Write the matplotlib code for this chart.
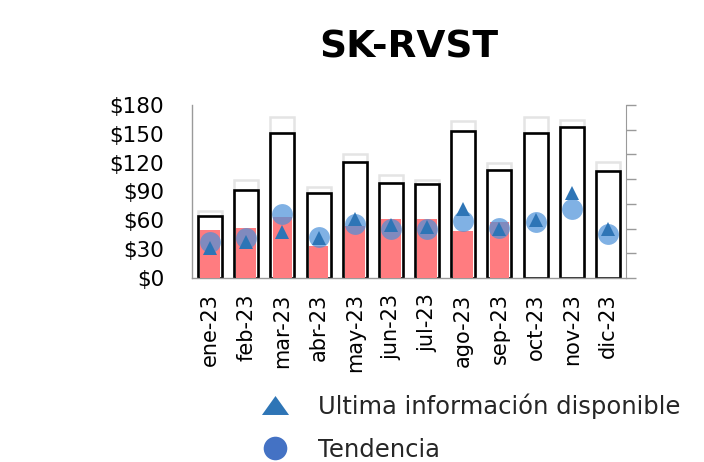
import matplotlib
matplotlib.use("Agg")
import matplotlib.pyplot as plt
from matplotlib.lines import Line2D
import numpy as np

# Monthly data
months = ["ene-23", "feb-23", "mar-23", "abr-23", "may-23", "jun-23",
          "jul-23", "ago-23", "sep-23", "oct-23", "nov-23", "dic-23"]
total = [64.6, 91.7, 150.5, 88.0, 120.3, 98.4, 97.3, 152.6, 112.6, 150.8, 157.0, 110.9]
previous = [70.2, 101.5, 167.2, 94.9, 128.6, 106.7, 101.5, 163.3, 119.9, 167.8, 164.7, 120.9]
executed = [50.0, 51.8, 63.5, 33.4, 53.9, 61.2, 61.2, 48.7, 58.4, 0, 0, 0]
tendencia = [37.5, 41.7, 67.1, 42.4, 56.0, 51.1, 51.5, 59.1, 52.1, 58.1, 71.9, 46.3]
ultima = [31.8, 37.5, 48.3, 42.2, 61.0, 54.9, 53.4, 72.3, 50.6, 60.5, 88.5, 51.5]
y_ticks = [0, 30, 60, 90, 120, 150, 180]

plt.rcParams['font.family'] = ['DejaVu Sans']

fig = plt.figure(figsize=(7.04, 4.62), dpi=100)
ax = fig.add_axes([0.2727, 0.398, 0.6165, 0.375])

x = np.arange(len(months))
grid_color = "#9a9a9a"

ax.bar(x, previous, width=0.66, facecolor="none", edgecolor="#e4e4e4",
       linewidth=1.8, zorder=1)
ax.bar(x, total, width=0.66, facecolor="white", edgecolor="black",
       linewidth=1.9, zorder=2)
ax.bar(x, executed, width=0.545, color="#ff7c80", linewidth=0, zorder=3)
ax.plot(x, tendencia, linestyle="none", marker="o", markersize=15,
        markerfacecolor="#4a90d9", markeredgewidth=0, alpha=0.7, zorder=4)
ax.plot(x, ultima, linestyle="none", marker="^", markersize=10.6,
        markerfacecolor="#2e75b6", markeredgewidth=0, zorder=5)

ax.set_xlim(-0.5, len(months) - 0.5)
ax.set_ylim(0, 180)
ax.set_yticks(y_ticks)
ax.set_yticklabels(["${}".format(v) for v in y_ticks], fontsize=15.5)
ax.set_xticks(x)
ax.set_xticklabels(months, rotation=90, fontsize=15)
ax.tick_params(axis="x", length=0, pad=11)
ax.tick_params(axis="y", length=0, pad=20)

for side in ["top", "right"]:
    ax.spines[side].set_visible(False)
for side in ["left", "bottom"]:
    ax.spines[side].set_color(grid_color)
    ax.spines[side].set_linewidth(1.0)

# secondary axis: ticks only
ax2 = ax.twinx()
ax2.set_ylim(0, 7)
ax2.set_yticks(range(8))
ax2.set_yticklabels([])
ax2.tick_params(axis="y", length=7, width=1.0, color=grid_color)
for side in ["top", "left", "bottom"]:
    ax2.spines[side].set_visible(False)
ax2.spines["right"].set_color(grid_color)

ax.set_title("SK-RVST", fontsize=27, fontweight="bold", pad=34)

tri = [(-1, -0.7), (1, -0.7), (0, 0.7)]
handles = [
    Line2D([], [], linestyle="none", marker=tri, markersize=19.5,
           markerfacecolor="#2e75b6", markeredgewidth=0),
    Line2D([], [], linestyle="none", marker="o", markersize=17,
           markerfacecolor="#4472c4", markeredgewidth=0),
]
fig.legend(handles, ["Ultima información disponible", "Tendencia"],
           loc="upper left", bbox_to_anchor=(0.342, 0.170), frameon=False,
           fontsize=17.5, handletextpad=0.78, labelspacing=0.78,
           borderaxespad=0, labelcolor="#262626")

fig.savefig("out.png", dpi=100)
